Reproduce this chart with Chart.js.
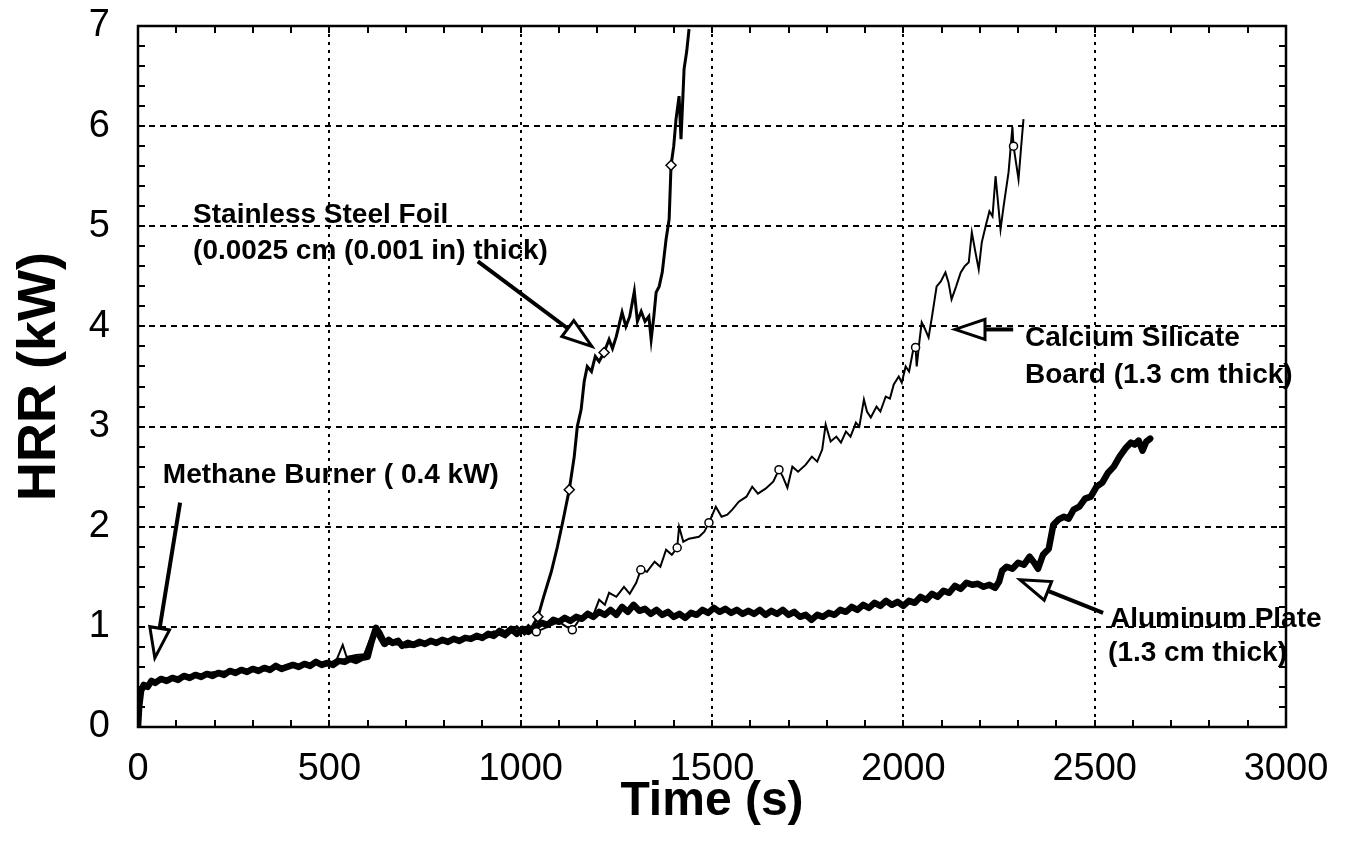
<!DOCTYPE html>
<html>
<head>
<meta charset="utf-8">
<script src="https://cdn.jsdelivr.net/npm/chart.js@4.4.1/dist/chart.umd.min.js"></script>
<style>
  html, body { margin: 0; padding: 0; background: #fff; }
  #wrap { width: 1350px; height: 852px; position: relative; }
</style>
</head>
<body>
<div id="wrap"><canvas id="c"></canvas></div>
<script>
// ---------- Data ----------
const alumT = [0,3,8,15,25,35,45,60,75,90,105,120,135,150,165,180,195,210,225,240,255,270,285,300,315,330,345,360,375,390,405,420,435,450,465,480,495,510,525,540,555,570,585,600,610,622,632,645,655,665,680,690,705,720,735,750,765,780,795,810,825,840,855,870,885,900,915,930,945,960,975,990,1005,1020,1040,1055,1070,1085,1100,1115,1130,1145,1160,1175,1190,1205,1220,1235,1250,1265,1280,1295,1310,1325,1340,1355,1370,1385,1400,1415,1430,1445,1460,1475,1490,1505,1520,1535,1550,1565,1580,1595,1610,1625,1640,1655,1670,1685,1700,1715,1730,1745,1760,1775,1790,1805,1820,1835,1850,1865,1880,1895,1910,1925,1940,1955,1970,1985,2000,2015,2030,2045,2060,2075,2090,2105,2120,2135,2150,2165,2180,2195,2210,2225,2240,2250,2258,2270,2285,2300,2315,2330,2342,2352,2365,2380,2392,2405,2420,2432,2445,2460,2475,2490,2505,2520,2535,2550,2565,2580,2595,2605,2615,2625,2635,2645];
const alumHRR = [0,0.2,0.36,0.42,0.4,0.46,0.44,0.48,0.46,0.49,0.47,0.51,0.49,0.52,0.5,0.53,0.51,0.54,0.52,0.56,0.54,0.57,0.55,0.58,0.56,0.59,0.57,0.61,0.58,0.6,0.62,0.6,0.63,0.61,0.65,0.62,0.64,0.62,0.66,0.65,0.68,0.66,0.69,0.7,0.85,0.99,0.93,0.83,0.87,0.84,0.86,0.81,0.84,0.82,0.85,0.83,0.86,0.84,0.87,0.85,0.88,0.86,0.89,0.88,0.91,0.89,0.93,0.91,0.96,0.93,0.98,0.93,0.98,0.95,1.0,1.04,1.02,1.07,1.05,1.09,1.06,1.1,1.08,1.13,1.1,1.15,1.12,1.17,1.12,1.2,1.15,1.22,1.16,1.18,1.13,1.17,1.12,1.15,1.1,1.13,1.09,1.14,1.12,1.17,1.14,1.19,1.15,1.18,1.14,1.17,1.13,1.16,1.13,1.17,1.12,1.16,1.13,1.17,1.12,1.15,1.1,1.12,1.07,1.12,1.1,1.14,1.12,1.17,1.15,1.2,1.17,1.22,1.19,1.24,1.21,1.26,1.22,1.25,1.21,1.26,1.24,1.3,1.27,1.33,1.3,1.36,1.34,1.41,1.38,1.44,1.42,1.43,1.4,1.42,1.39,1.45,1.56,1.6,1.58,1.64,1.62,1.7,1.64,1.58,1.72,1.78,2.02,2.07,2.1,2.08,2.17,2.2,2.28,2.3,2.4,2.44,2.54,2.6,2.7,2.78,2.84,2.82,2.86,2.76,2.85,2.88];

const steelT = [0,4,10,30,60,100,140,180,220,260,300,340,380,420,460,500,530,560,590,605,620,640,670,700,740,780,820,860,900,930,960,990,1010,1030,1045,1060,1080,1096,1110,1127,1140,1148,1158,1166,1174,1185,1195,1205,1218,1231,1240,1250,1265,1275,1285,1297,1305,1315,1325,1335,1341,1348,1354,1362,1370,1380,1388,1393,1400,1406,1414,1419,1424,1427,1434,1440];
const steelHRR = [0,0.25,0.38,0.44,0.47,0.49,0.5,0.52,0.53,0.56,0.57,0.58,0.6,0.61,0.63,0.64,0.66,0.7,0.7,0.85,0.95,0.82,0.85,0.8,0.83,0.85,0.86,0.88,0.9,0.95,0.9,1.0,0.93,1.0,1.1,1.3,1.55,1.8,2.05,2.37,2.7,3.0,3.17,3.45,3.6,3.55,3.7,3.65,3.74,3.87,3.78,3.9,4.14,4.0,4.1,4.35,4.05,4.15,4.05,4.1,3.87,4.1,4.34,4.4,4.54,4.87,5.07,5.61,5.8,6.07,6.3,5.87,6.3,6.57,6.75,6.97];

const calT = [0,4,12,30,60,100,150,200,250,300,350,400,450,500,520,535,545,570,600,615,630,650,680,720,760,800,850,900,940,970,1000,1020,1041,1070,1100,1120,1135,1153,1175,1190,1205,1220,1231,1250,1270,1285,1302,1314,1330,1350,1365,1380,1395,1409,1414,1425,1440,1466,1480,1492,1510,1525,1540,1553,1570,1590,1605,1620,1640,1660,1675,1685,1697,1710,1725,1745,1761,1775,1788,1797,1810,1825,1837,1850,1862,1876,1885,1897,1905,1915,1930,1940,1954,1965,1975,1988,1996,2006,2015,2025,2032,2035,2042,2048,2056,2066,2075,2087,2098,2110,2118,2126,2138,2150,2160,2171,2179,2188,2197,2205,2215,2225,2233,2241,2254,2262,2275,2285,2288,2301,2308,2314];
const calHRR = [0,0.3,0.4,0.45,0.48,0.5,0.52,0.55,0.56,0.58,0.6,0.6,0.64,0.63,0.68,0.82,0.7,0.72,0.73,0.9,0.96,0.84,0.82,0.8,0.84,0.85,0.87,0.88,0.92,0.95,0.93,1.02,0.95,1.0,1.05,1.0,0.97,1.07,1.15,1.12,1.27,1.22,1.34,1.3,1.4,1.33,1.44,1.57,1.55,1.65,1.6,1.77,1.72,1.79,2.0,1.85,1.88,1.9,1.95,2.04,2.2,2.1,2.12,2.17,2.25,2.3,2.4,2.33,2.38,2.45,2.57,2.5,2.39,2.6,2.55,2.62,2.7,2.65,2.77,3.02,2.85,2.9,2.84,2.95,2.9,3.04,3.0,3.27,3.15,3.09,3.2,3.15,3.3,3.28,3.42,3.5,3.44,3.6,3.55,3.75,3.79,3.6,3.85,4.04,3.98,3.89,4.1,4.4,4.45,4.54,4.44,4.27,4.4,4.54,4.6,4.64,4.94,4.75,4.57,4.84,5.0,5.15,5.1,5.5,4.97,5.2,5.54,5.99,5.8,5.47,5.8,6.07];

// times at which the symbol markers sit on the curves
const steelMarkerT = [1045,1127,1218,1393];
const calMarkerT = [1041,1135,1314,1409,1492,1675,2032,2288];

// axis tick settings
const xMin = 0, xMax = 3000, xStep = 500, xMinorStep = 100;
const yMin = 0, yMax = 7, yStep = 1, yMinorStep = 0.2;

// annotation texts (positions in data units)
const notes = [
  { lines: ['Stainless Steel Foil', '(0.0025 cm (0.001 in) thick)'], x: 144, y: [5.03, 4.67], arrow: [888, 4.65, 1186, 3.80] },
  { lines: ['Methane Burner ( 0.4 kW)'], x: 65, y: [2.44], arrow: [110, 2.24, 44, 0.69] },
  { lines: ['Calcium Silicate', 'Board (1.3 cm thick)'], x: 2318, y: [3.80, 3.44], arrow: [2287, 3.97, 2135, 3.97] },
  { lines: ['Aluminum Plate', '(1.3 cm thick)'], x: 2540, y: [1.00, 0.66], xs: [2540, 2535], arrow: [2522, 1.14, 2305, 1.47] }
];

const FONT = '"Liberation Sans", Arial, Helvetica, sans-serif';
Chart.defaults.font.family = FONT;
Chart.defaults.color = '#000';

const toXY = (ts, ys) => ts.map((t, i) => ({ x: t, y: ys[i] }));
const markerRadius = (list, r) => (ctx) => {
  const p = ctx.raw; return p && list.includes(p.x) ? r : 0;
};

const framePlugin = {
  id: 'frameGrid',
  beforeDatasetsDraw(chart) {
    const { ctx, chartArea: a, scales: { x, y } } = chart;
    ctx.save();
    ctx.strokeStyle = '#000';
    ctx.lineWidth = 2;
    ctx.setLineDash([3, 5]);
    x.ticks.forEach(tk => {
      if (tk.value <= xMin || tk.value >= xMax) return;
      const px = Math.round(x.getPixelForValue(tk.value));
      ctx.beginPath(); ctx.moveTo(px, a.top); ctx.lineTo(px, a.bottom); ctx.stroke();
    });
    ctx.setLineDash([6, 5]);
    y.ticks.forEach(tk => {
      if (tk.value <= yMin || tk.value >= yMax) return;
      const py = Math.round(y.getPixelForValue(tk.value));
      ctx.beginPath(); ctx.moveTo(a.left, py); ctx.lineTo(a.right, py); ctx.stroke();
    });
    ctx.setLineDash([]);
    ctx.lineWidth = 2;
    const tl = 7;
    for (let v = xMin + xMinorStep; v < xMax; v += xMinorStep) {
      const px = Math.round(x.getPixelForValue(v));
      ctx.beginPath();
      ctx.moveTo(px, a.bottom); ctx.lineTo(px, a.bottom - tl);
      ctx.moveTo(px, a.top); ctx.lineTo(px, a.top + tl);
      ctx.stroke();
    }
    for (let k = 1; k * yMinorStep < yMax - 1e-9; k++) {
      const py = Math.round(y.getPixelForValue(k * yMinorStep));
      ctx.beginPath();
      ctx.moveTo(a.left, py); ctx.lineTo(a.left + tl, py);
      ctx.moveTo(a.right, py); ctx.lineTo(a.right - tl, py);
      ctx.stroke();
    }
    ctx.restore();
  },
  afterDatasetsDraw(chart) {
    const { ctx, chartArea: a, scales: { x, y } } = chart;
    ctx.save();
    ctx.strokeStyle = '#000';
    ctx.lineWidth = 2.5;
    ctx.strokeRect(a.left, a.top, a.right - a.left, a.bottom - a.top);
    ctx.fillStyle = '#000';
    ctx.font = 'bold 28px ' + FONT;
    ctx.textAlign = 'left';
    ctx.textBaseline = 'alphabetic';
    notes.forEach(n => {
      n.lines.forEach((s, i) => {
        const tx = n.xs ? n.xs[i] : n.x;
        ctx.fillText(s, x.getPixelForValue(tx), y.getPixelForValue(n.y[i]));
      });
      const [x0, y0, x1, y1] = n.arrow;
      const p0x = x.getPixelForValue(x0), p0y = y.getPixelForValue(y0);
      const p1x = x.getPixelForValue(x1), p1y = y.getPixelForValue(y1);
      const ang = Math.atan2(p1y - p0y, p1x - p0x);
      const hl = 30, hw = 10;
      const bx = p1x - hl * Math.cos(ang), by = p1y - hl * Math.sin(ang);
      ctx.lineWidth = 4;
      ctx.lineCap = 'butt';
      ctx.beginPath(); ctx.moveTo(p0x, p0y); ctx.lineTo(bx, by); ctx.stroke();
      ctx.lineWidth = 3;
      ctx.lineJoin = 'miter';
      ctx.beginPath();
      ctx.moveTo(p1x, p1y);
      ctx.lineTo(bx + hw * Math.sin(ang), by - hw * Math.cos(ang));
      ctx.lineTo(bx - hw * Math.sin(ang), by + hw * Math.cos(ang));
      ctx.closePath();
      ctx.fillStyle = '#fff'; ctx.fill();
      ctx.stroke();
      ctx.fillStyle = '#000';
    });
    ctx.restore();
  }
};

new Chart(document.getElementById('c'), {
  type: 'scatter',
  data: {
    datasets: [
      {
        label: 'Stainless Steel Foil',
        data: toXY(steelT, steelHRR),
        showLine: true, borderColor: '#000', borderWidth: 3, tension: 0,
        pointStyle: 'rectRot', pointRadius: markerRadius(steelMarkerT, 5),
        pointBackgroundColor: '#fff', pointBorderColor: '#000', pointBorderWidth: 1.5,
        order: 1
      },
      {
        label: 'Calcium Silicate Board',
        data: toXY(calT, calHRR),
        showLine: true, borderColor: '#000', borderWidth: 2, tension: 0,
        pointStyle: 'circle', pointRadius: markerRadius(calMarkerT, 4),
        pointBackgroundColor: '#fff', pointBorderColor: '#000', pointBorderWidth: 1.5,
        order: 2
      },
      {
        label: 'Aluminum Plate',
        data: toXY(alumT, alumHRR),
        showLine: true, borderColor: '#000', borderWidth: 6.5, tension: 0,
        borderJoinStyle: 'round', borderCapStyle: 'round',
        pointRadius: 0,
        order: 3
      }
    ]
  },
  options: {
    responsive: true,
    maintainAspectRatio: false,
    animation: false,
    events: [],
    layout: { padding: { left: 0, right: 64, top: 26, bottom: 0 } },
    plugins: { legend: { display: false }, tooltip: { enabled: false } },
    scales: {
      x: {
        type: 'linear', min: xMin, max: xMax,
        ticks: { stepSize: xStep, font: { size: 38 }, color: '#000', padding: 20, maxRotation: 0, callback: v => String(v) },
        grid: { display: false, drawTicks: false },
        border: { display: false },
        title: { display: true, text: 'Time (s)', font: { size: 48, weight: 'bold' }, color: '#000', padding: { top: 0, bottom: 21 } },
        afterFit: s => { s.height = 125; s.paddingLeft = 0; s.paddingRight = 0; }
      },
      y: {
        type: 'linear', min: yMin, max: yMax,
        ticks: { stepSize: yStep, font: { size: 38 }, color: '#000', padding: 28, callback: v => String(v) },
        grid: { display: false, drawTicks: false },
        border: { display: false },
        title: { display: true, text: 'HRR (kW)', font: { size: 54, weight: 'bold' }, color: '#000', padding: { top: 8, bottom: 0 } },
        afterFit: s => { s.width = 138; s.paddingTop = 0; s.paddingBottom = 0; }
      }
    }
  },
  plugins: [framePlugin]
});
</script>
</body>
</html>
